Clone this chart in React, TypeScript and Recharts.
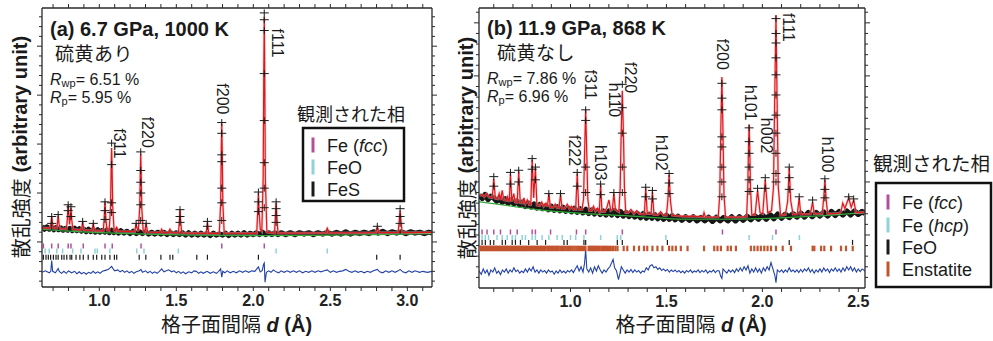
import React from 'react';
import { ComposedChart, Line, Scatter, XAxis, YAxis } from 'recharts';

const LATIN = '"Liberation Sans", Arial, Helvetica, sans-serif';
const CJK = '"Noto Sans CJK JP", "Noto Sans CJK SC", sans-serif';

type P = [number, number];

// ================= Panel (a): 6.7 GPa, 1000 K =================
const aXTicks = [0.7, 0.8, 0.9, 1.0, 1.1, 1.2, 1.3, 1.4, 1.5, 1.6, 1.7, 1.8, 1.9, 2.0, 2.1, 2.2, 2.3, 2.4, 2.5, 2.6, 2.7, 2.8, 2.9, 3.0, 3.1];
const aXLabels = [1.0, 1.5, 2.0, 2.5, 3.0];
const aYTicks = [-4, -3, -2, -1, 0, 1, 2, 3, 4, 5, 6, 7, 8, 9, 10, 11, 12, 13, 14, 15, 16, 17, 18, 19, 20, 21, 22, 23];

const aCalc: P[] = [
  [0.628, 1.45], [0.66, 1.42],
  [0.679, 1.41], [0.686, 1.9], [0.691, 2.6], [0.696, 1.9], [0.703, 1.4],
  [0.722, 1.38], [0.728, 1.9], [0.733, 2.7], [0.738, 1.9], [0.745, 1.37],
  [0.787, 1.32], [0.793, 2.4], [0.798, 3.8], [0.803, 2.6], [0.807, 1.8], [0.811, 2.4], [0.816, 3.5], [0.821, 2.3], [0.828, 1.3],
  [0.882, 1.22], [0.888, 1.6], [0.892, 2.1], [0.896, 1.6], [0.902, 1.21],
  [0.952, 1.17], [0.957, 1.5], [0.961, 1.9], [0.965, 1.5], [0.97, 1.16],
  [1.026, 1.13], [1.032, 2.5], [1.037, 4.1], [1.042, 2.5], [1.05, 1.2],
  [1.064, 1.15], [1.073, 3.6], [1.077, 7.6], [1.08, 9.6], [1.083, 7.6], [1.087, 3.6], [1.096, 1.2],
  [1.106, 1.1], [1.11, 1.4], [1.113, 1.5], [1.116, 1.4], [1.12, 1.1],
  [1.23, 1.05], [1.235, 1.5], [1.239, 1.9], [1.243, 1.5], [1.25, 1.2],
  [1.253, 1.1], [1.262, 3.4], [1.266, 7.0], [1.269, 9.0], [1.272, 7.0], [1.276, 3.4], [1.285, 1.2],
  [1.295, 1.0], [1.3, 1.5], [1.304, 1.9], [1.308, 1.5], [1.314, 1.0],
  [1.398, 0.97], [1.402, 1.2], [1.405, 1.3], [1.408, 1.2], [1.413, 0.96],
  [1.452, 0.95], [1.456, 1.2], [1.459, 1.3], [1.462, 1.2], [1.467, 0.95],
  [1.514, 0.93], [1.52, 2.2], [1.524, 3.3], [1.528, 2.2], [1.535, 0.93],
  [1.694, 0.88], [1.698, 1.5], [1.702, 2.0], [1.706, 1.5], [1.711, 0.88],
  [1.779, 0.87], [1.788, 4.0], [1.792, 9.5], [1.795, 12.1], [1.798, 9.5], [1.802, 4.0], [1.811, 0.9],
  [2.022, 0.87], [2.028, 3.0], [2.033, 5.0], [2.038, 3.0], [2.045, 1.3],
  [2.055, 1.1], [2.064, 6.5], [2.068, 17.5], [2.071, 23.0], [2.074, 17.5], [2.078, 6.5], [2.088, 1.0],
  [2.138, 0.9], [2.143, 2.6], [2.148, 4.0], [2.153, 2.6], [2.16, 0.9],
  [2.472, 0.92], [2.477, 1.3], [2.48, 1.4], [2.483, 1.3], [2.489, 0.92],
  [2.795, 0.95], [2.801, 1.4], [2.805, 1.5], [2.809, 1.4], [2.815, 0.95],
  [2.94, 0.96], [2.948, 2.3], [2.953, 3.2], [2.958, 2.3], [2.966, 0.96],
  [3.16, 0.97],
];

const aObsBand: P[] = [
  [0.628, 1.6], [0.645, 1.3], [0.66, 1.55], [0.675, 1.3], [0.69, 1.5], [0.705, 1.25], [0.72, 1.5], [0.735, 1.25], [0.75, 1.45], [0.765, 1.2],
  [0.78, 1.4], [0.795, 1.2], [0.81, 1.4], [0.825, 1.15], [0.84, 1.4], [0.855, 1.15], [0.87, 1.35], [0.885, 1.1], [0.9, 1.3], [0.915, 1.05],
  [0.93, 1.3], [0.945, 1.05], [0.96, 1.25], [0.975, 1.0], [0.99, 1.25], [1.005, 1.0], [1.02, 1.2], [1.035, 1.0], [1.05, 1.25], [1.065, 0.95],
  [1.08, 1.2], [1.095, 0.95], [1.11, 1.2], [1.125, 0.9], [1.14, 1.15], [1.16, 0.9], [1.18, 1.1], [1.2, 0.85], [1.22, 1.1], [1.24, 0.85],
  [1.26, 1.05], [1.28, 0.85], [1.3, 1.05], [1.32, 0.8], [1.34, 1.0], [1.36, 0.8], [1.38, 1.0], [1.4, 0.8], [1.42, 1.0], [1.44, 0.75],
  [1.46, 1.0], [1.48, 0.75], [1.5, 0.95], [1.52, 0.75], [1.54, 0.95], [1.56, 0.7], [1.58, 0.95], [1.6, 0.7], [1.62, 0.9], [1.64, 0.7],
  [1.66, 0.9], [1.68, 0.7], [1.7, 0.9], [1.72, 0.65], [1.74, 0.9], [1.76, 0.7], [1.78, 0.85], [1.8, 0.7], [1.82, 0.9], [1.84, 0.65],
  [1.86, 0.9], [1.88, 0.7], [1.9, 0.9], [1.92, 0.7], [1.94, 0.95], [1.96, 0.7], [1.98, 0.9], [2.0, 0.75], [2.02, 0.95], [2.04, 0.75],
  [2.06, 1.0], [2.08, 0.75], [2.1, 0.95], [2.12, 0.75], [2.14, 0.95], [2.16, 0.75], [2.18, 0.95], [2.21, 0.75], [2.24, 0.95], [2.27, 0.75],
  [2.3, 0.95], [2.33, 0.8], [2.36, 0.95], [2.39, 0.75], [2.42, 0.95], [2.45, 0.8], [2.48, 1.0], [2.51, 0.8], [2.54, 1.0], [2.57, 0.8],
  [2.6, 1.05], [2.63, 0.8], [2.66, 1.0], [2.69, 0.85], [2.72, 1.0], [2.75, 0.85], [2.78, 1.05], [2.81, 0.9], [2.84, 1.1], [2.87, 0.85],
  [2.9, 1.05], [2.93, 0.9], [2.96, 1.05], [2.99, 0.85], [3.02, 1.05], [3.05, 0.9], [3.08, 1.0], [3.11, 0.85], [3.14, 1.0], [3.16, 0.9],
];

const aObsCross: P[] = [
  [2.071, 23.4], [2.071, 22.7], [2.071, 21.6], [2.071, 17.2], [2.071, 12.4], [2.071, 8.1], [2.071, 5.5], [2.071, 3.5],
  [1.795, 12.2], [1.795, 11.1], [1.795, 8.9], [1.795, 8.2], [1.795, 5.5], [1.795, 4.0], [1.795, 2.2],
  [1.269, 9.2], [1.269, 7.3], [1.269, 6.1], [1.269, 5.0], [1.269, 3.8], [1.269, 2.2],
  [1.08, 10.1], [1.08, 7.9], [1.08, 4.0], [1.08, 3.0],
  [0.691, 2.6], [0.691, 1.9], [0.733, 2.8], [0.798, 3.8], [0.798, 3.2], [0.816, 3.6], [0.816, 2.6], [0.892, 2.1], [0.961, 1.9],
  [1.037, 4.1], [1.037, 3.2], [1.037, 2.3], [1.239, 1.9], [1.304, 1.9], [1.524, 3.3], [1.524, 2.6], [1.524, 2.0], [1.702, 2.1], [1.702, 1.6],
  [2.033, 5.1], [2.033, 4.1], [2.033, 3.1], [2.148, 4.1], [2.148, 3.4], [2.148, 2.7], [2.148, 2.0],
  [2.953, 3.4], [2.953, 2.6], [2.953, 1.9], [2.805, 1.6],
];

const aBackground: P[] = [[0.628, 1.3], [0.8, 1.1], [1.0, 0.95], [1.3, 0.8], [1.6, 0.7], [2.0, 0.65], [2.4, 0.67], [2.8, 0.75], [3.16, 0.85]];

const aDiff: P[] = [
  [0.628, -3.1], [0.65, -2.95], [0.675, -3.15], [0.685, -3.0], [0.691, -1.9], [0.697, -3.0], [0.715, -3.15], [0.733, -2.7], [0.74, -3.0], [0.755, -3.2],
  [0.77, -3.0], [0.785, -3.2], [0.8, -2.95], [0.82, -3.15], [0.84, -3.0], [0.855, -3.25], [0.87, -3.05], [0.885, -3.25], [0.9, -3.1], [0.915, -3.3],
  [0.93, -3.1], [0.945, -3.2], [0.96, -3.0], [0.975, -3.2], [0.99, -3.05], [1.005, -3.2], [1.02, -3.0], [1.04, -2.9], [1.06, -2.8], [1.08, -2.5],
  [1.09, -2.75], [1.1, -2.95], [1.12, -2.85], [1.135, -3.05], [1.15, -2.9], [1.165, -3.1], [1.18, -2.95], [1.195, -3.15], [1.21, -3.0], [1.225, -3.2],
  [1.24, -3.05], [1.26, -2.95], [1.27, -2.8], [1.28, -3.1], [1.3, -2.95], [1.315, -3.15], [1.33, -3.0], [1.345, -3.2], [1.36, -3.05], [1.375, -3.2],
  [1.39, -3.0], [1.405, -2.75], [1.42, -3.05], [1.435, -2.95], [1.45, -2.85], [1.47, -3.05], [1.485, -2.95], [1.5, -3.15], [1.515, -3.0], [1.53, -3.2],
  [1.545, -3.05], [1.56, -3.25], [1.58, -3.05], [1.6, -3.15], [1.615, -2.95], [1.63, -3.0], [1.645, -3.2], [1.66, -3.05], [1.675, -3.2], [1.7, -3.0],
  [1.72, -3.2], [1.74, -3.05], [1.76, -3.2], [1.775, -3.0], [1.788, -2.75], [1.795, -3.6], [1.802, -3.0], [1.815, -3.15], [1.83, -2.95], [1.85, -3.15],
  [1.87, -3.0], [1.89, -3.15], [1.91, -2.95], [1.93, -3.1], [1.95, -2.95], [1.97, -3.1], [1.99, -2.95], [2.01, -3.0], [2.02, -2.8], [2.033, -2.55],
  [2.045, -3.05], [2.058, -2.9], [2.066, -2.3], [2.071, -2.15], [2.076, -4.1], [2.085, -3.1], [2.1, -2.95], [2.115, -3.1], [2.13, -2.85], [2.148, -3.05],
  [2.165, -3.15], [2.18, -2.95], [2.2, -3.1], [2.22, -2.95], [2.24, -3.1], [2.26, -2.95], [2.28, -3.1], [2.3, -2.95], [2.32, -3.15], [2.34, -3.0],
  [2.36, -3.1], [2.38, -2.95], [2.4, -3.1], [2.42, -2.95], [2.44, -3.05], [2.46, -2.95], [2.48, -2.85], [2.5, -3.1], [2.52, -2.95], [2.54, -3.1],
  [2.56, -3.0], [2.58, -2.95], [2.6, -2.8], [2.62, -3.0], [2.64, -3.1], [2.66, -2.95], [2.68, -3.1], [2.7, -3.0], [2.72, -3.15], [2.74, -3.0],
  [2.76, -3.1], [2.78, -2.95], [2.805, -2.8], [2.82, -3.05], [2.84, -3.15], [2.86, -2.95], [2.88, -3.1], [2.9, -2.95], [2.92, -3.1], [2.94, -2.95],
  [2.953, -2.8], [2.97, -3.05], [2.99, -3.15], [3.01, -2.95], [3.03, -3.1], [3.05, -2.95], [3.08, -3.1], [3.1, -3.0], [3.13, -3.1], [3.16, -3.0],
];

const aFcc = [0.637, 0.691, 0.733, 0.798, 0.816, 0.896, 1.037, 1.084, 1.271, 1.795, 2.071];
const aFeO = [0.648, 0.675, 0.724, 0.762, 0.827, 0.881, 0.972, 0.987, 1.069, 1.243, 1.29, 1.513, 2.148, 2.48];
const aFeS = [0.637, 0.654, 0.669, 0.684, 0.702, 0.719, 0.733, 0.756, 0.771, 0.789, 0.81, 0.821, 0.849, 0.874, 0.896, 0.928, 0.961, 0.983, 1.016, 1.037, 1.069, 1.098, 1.113, 1.259, 1.302, 1.4, 1.459, 1.477, 1.633, 1.702, 2.033, 2.801, 2.953];

const aPeakNames = ['f311', 'f220', 'f200', 'f111'];
const aPeakLabelPos: P[] = [[1.128, 11.6], [1.31, 12.8], [1.797, 16.2], [2.159, 21.8]];

// ================= Panel (b): 11.9 GPa, 868 K =================
const bXTicks = [0.6, 0.7, 0.8, 0.9, 1.0, 1.1, 1.2, 1.3, 1.4, 1.5, 1.6, 1.7, 1.8, 1.9, 2.0, 2.1, 2.2, 2.3, 2.4, 2.5];
const bXLabels = [1.0, 1.5, 2.0, 2.5];
const bYTicks = [-4, -3, -2, -1, 0, 1, 2, 3, 4, 5, 6, 7, 8, 9, 10, 11, 12, 13, 14, 15, 16, 17, 18, 19, 20, 21];

const bCalc: P[] = [
  [0.523, 3.7], [0.54, 3.8], [0.55, 3.6], [0.565, 3.9], [0.575, 3.55],
  [0.592, 3.5], [0.6, 5.3], [0.608, 3.45],
  [0.62, 3.4], [0.628, 3.9], [0.636, 3.3], [0.644, 4.2], [0.652, 3.3],
  [0.665, 3.25], [0.672, 3.6], [0.678, 3.2],
  [0.681, 3.2], [0.687, 5.8], [0.694, 3.15], [0.704, 3.9], [0.712, 3.1],
  [0.722, 3.05], [0.73, 6.0], [0.738, 3.05],
  [0.75, 3.0], [0.757, 3.5], [0.765, 2.95], [0.775, 3.3], [0.785, 2.85],
  [0.793, 2.85], [0.8, 7.1], [0.808, 3.5], [0.817, 6.3], [0.825, 2.8],
  [0.84, 2.75], [0.85, 3.1], [0.86, 2.7], [0.872, 3.0], [0.88, 2.65], [0.887, 3.9], [0.895, 2.6],
  [0.91, 2.6], [0.92, 2.9], [0.93, 2.55], [0.94, 2.55], [0.948, 3.8], [0.956, 2.5],
  [0.97, 2.5], [0.983, 2.9], [0.995, 2.45], [1.005, 2.7], [1.015, 2.4],
  [1.027, 2.4], [1.035, 5.8], [1.043, 2.4],
  [1.06, 2.4], [1.068, 3.4], [1.073, 7.5], [1.079, 11.8], [1.085, 7.5], [1.09, 3.4], [1.098, 2.3],
  [1.11, 2.3], [1.12, 2.7], [1.13, 2.25], [1.14, 2.5],
  [1.15, 2.2], [1.157, 4.7], [1.164, 2.2],
  [1.178, 2.2], [1.19, 2.6], [1.2, 3.3], [1.21, 2.3], [1.218, 2.4], [1.226, 3.9], [1.234, 2.4],
  [1.252, 2.2], [1.259, 4.5], [1.264, 9.5], [1.27, 13.6], [1.276, 9.5], [1.281, 4.5], [1.288, 2.1],
  [1.3, 2.1], [1.315, 2.4], [1.33, 2.0], [1.345, 2.3], [1.36, 2.0], [1.375, 1.95],
  [1.385, 1.95], [1.392, 4.4], [1.4, 2.0], [1.42, 2.0], [1.427, 4.1], [1.435, 1.9],
  [1.455, 1.9], [1.47, 2.2], [1.485, 1.85], [1.5, 1.85], [1.507, 3.2], [1.514, 5.7], [1.521, 3.2], [1.53, 1.85],
  [1.56, 1.8], [1.6, 1.75], [1.64, 1.78], [1.69, 1.7], [1.696, 2.1], [1.703, 1.7],
  [1.74, 1.68], [1.77, 1.7], [1.778, 3.8], [1.784, 10.5], [1.789, 14.9], [1.794, 10.5], [1.8, 3.8], [1.808, 1.7],
  [1.85, 1.68], [1.9, 1.7], [1.918, 1.75], [1.924, 4.5], [1.928, 8.5], [1.931, 10.4], [1.934, 8.5], [1.938, 4.5], [1.945, 1.9],
  [1.962, 1.9], [1.975, 4.2], [1.988, 2.1], [2.002, 2.0], [2.015, 5.2], [2.028, 2.1],
  [2.048, 2.3], [2.058, 4.5], [2.064, 12.5], [2.071, 20.7], [2.077, 12.5], [2.083, 4.5], [2.095, 1.85],
  [2.12, 1.9], [2.132, 3.2], [2.14, 6.3], [2.148, 3.2], [2.16, 1.95],
  [2.182, 1.95], [2.192, 3.5], [2.2, 1.95],
  [2.25, 1.98], [2.262, 3.1], [2.27, 2.0],
  [2.312, 2.0], [2.32, 3.5], [2.326, 5.2], [2.332, 3.5], [2.34, 2.0],
  [2.4, 2.05], [2.41, 2.2], [2.419, 3.0], [2.43, 2.5], [2.45, 3.5], [2.463, 2.6], [2.476, 3.3], [2.488, 2.1],
  [2.535, 2.15],
];

const bObsBand: P[] = [
  [0.523, 3.75], [0.54, 3.45], [0.555, 3.8], [0.57, 3.35], [0.585, 3.65], [0.6, 3.5], [0.615, 3.2], [0.63, 3.5], [0.645, 3.1], [0.66, 3.4],
  [0.675, 3.0], [0.69, 3.3], [0.705, 2.95], [0.72, 3.2], [0.735, 2.85], [0.75, 3.1], [0.765, 2.7], [0.78, 3.0], [0.795, 2.65], [0.81, 2.9],
  [0.825, 2.55], [0.84, 2.85], [0.855, 2.5], [0.87, 2.75], [0.885, 2.4], [0.9, 2.7], [0.915, 2.35], [0.93, 2.65], [0.945, 2.3], [0.96, 2.6],
  [0.975, 2.25], [0.99, 2.5], [1.005, 2.2], [1.02, 2.5], [1.035, 2.15], [1.05, 2.45], [1.065, 2.1], [1.08, 2.4], [1.095, 2.05], [1.11, 2.35],
  [1.125, 2.0], [1.14, 2.3], [1.155, 1.95], [1.17, 2.25], [1.185, 1.9], [1.2, 2.25], [1.215, 1.9], [1.23, 2.3], [1.245, 1.85], [1.26, 2.2],
  [1.275, 1.8], [1.29, 2.1], [1.305, 1.75], [1.32, 2.05], [1.335, 1.7], [1.35, 2.0], [1.365, 1.65], [1.38, 2.0], [1.395, 1.6], [1.41, 1.95],
  [1.425, 1.6], [1.44, 1.9], [1.455, 1.55], [1.47, 1.85], [1.485, 1.5], [1.5, 1.85], [1.515, 1.5], [1.53, 1.8], [1.545, 1.45], [1.56, 1.75],
  [1.58, 1.4], [1.6, 1.7], [1.62, 1.4], [1.64, 1.7], [1.66, 1.35], [1.68, 1.65], [1.7, 1.35], [1.72, 1.65], [1.74, 1.3], [1.76, 1.65],
  [1.78, 1.35], [1.8, 1.65], [1.82, 1.35], [1.84, 1.7], [1.86, 1.35], [1.88, 1.7], [1.9, 1.4], [1.92, 1.75], [1.94, 1.45], [1.96, 1.8],
  [1.98, 1.5], [2.0, 1.85], [2.02, 1.5], [2.04, 1.9], [2.06, 1.55], [2.08, 1.95], [2.1, 1.6], [2.12, 1.95], [2.14, 1.65], [2.16, 2.0],
  [2.18, 1.7], [2.2, 2.05], [2.22, 1.7], [2.24, 2.1], [2.26, 1.75], [2.28, 2.1], [2.3, 1.8], [2.32, 2.15], [2.34, 1.8], [2.36, 2.2],
  [2.38, 1.85], [2.4, 2.2], [2.42, 1.9], [2.44, 2.25], [2.46, 1.9], [2.48, 2.25], [2.5, 1.95], [2.52, 2.2], [2.535, 2.05],
];

const bObsCross: P[] = [
  [2.071, 20.4], [2.071, 19.0], [2.071, 18.1], [2.071, 16.7], [2.071, 15.1], [2.071, 13.2], [2.071, 11.3], [2.071, 9.6], [2.071, 7.7], [2.071, 5.8], [2.071, 5.0],
  [1.789, 14.3], [1.789, 12.9], [1.789, 11.8], [1.789, 9.25], [1.789, 8.3], [1.789, 6.4], [1.789, 5.0], [1.789, 3.6],
  [1.931, 10.1], [1.931, 8.8], [1.931, 7.7], [1.931, 6.4], [1.931, 5.2], [1.931, 4.1],
  [1.27, 14.2], [1.27, 12.0], [1.27, 9.6], [1.27, 6.4], [1.27, 4.0],
  [1.079, 11.8], [1.079, 10.8], [1.079, 6.4], [1.079, 4.0],
  [0.6, 5.5], [0.6, 4.6], [0.687, 5.9], [0.687, 4.8], [0.73, 6.1], [0.73, 5.0], [0.8, 7.2], [0.8, 6.2], [0.817, 6.4], [0.817, 5.2],
  [0.887, 3.9], [0.948, 3.9], [1.035, 5.9], [1.035, 4.6], [1.157, 4.8], [1.157, 3.8], [1.226, 4.0], [1.392, 4.5], [1.392, 3.6],
  [1.427, 4.2], [1.427, 3.4], [1.514, 5.8], [1.514, 4.9], [1.514, 3.9], [1.975, 4.4], [2.015, 5.4], [2.015, 4.4],
  [2.14, 6.4], [2.14, 5.4], [2.14, 4.3], [2.192, 3.6], [2.262, 3.3], [2.326, 5.3], [2.326, 4.3], [2.326, 3.5], [2.45, 3.6], [2.476, 3.4],
];

const bBackground: P[] = [[0.523, 3.14], [0.7, 2.7], [0.84, 2.36], [1.1, 1.98], [1.37, 1.73], [1.56, 1.5], [1.8, 1.48], [2.0, 1.55], [2.3, 1.8], [2.535, 2.1]];

const bDiff: P[] = [
  [0.523, -3.4], [0.535, -3.7], [0.545, -3.2], [0.555, -3.6], [0.565, -3.3], [0.575, -3.8], [0.585, -3.3], [0.595, -3.5], [0.605, -3.1], [0.615, -3.6],
  [0.625, -3.4], [0.635, -3.75], [0.645, -3.3], [0.655, -3.5], [0.665, -3.2], [0.675, -3.6], [0.685, -3.3], [0.695, -3.5], [0.705, -3.1], [0.715, -3.45],
  [0.725, -3.3], [0.735, -3.6], [0.745, -3.4], [0.755, -3.55], [0.765, -3.2], [0.775, -3.5], [0.785, -3.15], [0.795, -3.4], [0.805, -3.0], [0.815, -3.5],
  [0.825, -3.3], [0.835, -3.6], [0.845, -3.3], [0.855, -3.5], [0.865, -3.35], [0.875, -3.6], [0.885, -3.3], [0.895, -3.5], [0.905, -3.4], [0.915, -3.7],
  [0.925, -3.4], [0.935, -3.6], [0.945, -3.3], [0.955, -3.55], [0.965, -3.4], [0.975, -3.6], [0.985, -3.35], [0.995, -3.5], [1.005, -3.3], [1.015, -3.55],
  [1.025, -3.2], [1.035, -2.9], [1.045, -3.4], [1.055, -3.0], [1.065, -3.5], [1.073, -2.7], [1.079, -1.4], [1.085, -3.2], [1.095, -3.5], [1.105, -3.1],
  [1.115, -3.6], [1.125, -3.0], [1.135, -3.4], [1.145, -2.9], [1.155, -3.3], [1.165, -3.6], [1.175, -3.3], [1.185, -3.5], [1.195, -3.2], [1.205, -3.0],
  [1.215, -2.6], [1.222, -2.3], [1.23, -3.1], [1.24, -3.4], [1.25, -4.2], [1.258, -3.6], [1.265, -3.0], [1.275, -3.3], [1.285, -3.6], [1.295, -3.3],
  [1.305, -3.5], [1.315, -3.25], [1.325, -3.55], [1.335, -3.3], [1.345, -3.5], [1.355, -3.35], [1.365, -3.6], [1.375, -3.4], [1.385, -3.5], [1.395, -3.1],
  [1.405, -3.3], [1.415, -2.9], [1.425, -2.8], [1.435, -3.1], [1.445, -3.0], [1.455, -3.25], [1.465, -3.1], [1.475, -3.35], [1.485, -3.2], [1.495, -3.4],
  [1.505, -3.25], [1.515, -3.5], [1.525, -3.3], [1.535, -3.45], [1.545, -3.3], [1.555, -3.5], [1.565, -3.35], [1.575, -3.55], [1.585, -3.4], [1.595, -3.6],
  [1.605, -3.35], [1.615, -3.5], [1.625, -3.3], [1.635, -3.55], [1.645, -3.4], [1.655, -3.5], [1.665, -3.3], [1.675, -3.55], [1.685, -3.35], [1.695, -3.5],
  [1.705, -3.3], [1.715, -3.6], [1.725, -3.4], [1.735, -3.5], [1.745, -3.3], [1.755, -3.55], [1.765, -3.35], [1.775, -3.4], [1.783, -3.9], [1.789, -4.1],
  [1.795, -3.2], [1.805, -3.4], [1.815, -3.6], [1.825, -3.3], [1.835, -3.5], [1.845, -3.3], [1.855, -3.55], [1.865, -3.2], [1.875, -3.45], [1.885, -3.1],
  [1.895, -3.4], [1.905, -3.0], [1.915, -3.3], [1.925, -2.9], [1.935, -3.6], [1.945, -3.2], [1.955, -3.5], [1.965, -3.1], [1.975, -3.5], [1.985, -3.2],
  [1.995, -3.6], [2.005, -3.1], [2.015, -3.4], [2.025, -3.0], [2.035, -3.3], [2.045, -2.6], [2.055, -3.2], [2.065, -3.8], [2.071, -4.5], [2.078, -3.3],
  [2.09, -3.5], [2.1, -3.3], [2.11, -3.55], [2.12, -3.3], [2.13, -3.5], [2.14, -3.1], [2.15, -3.45], [2.16, -3.3], [2.17, -3.5], [2.18, -3.3],
  [2.19, -3.55], [2.2, -3.25], [2.21, -3.5], [2.22, -3.2], [2.23, -3.4], [2.24, -3.1], [2.25, -3.5], [2.26, -3.25], [2.27, -3.6], [2.28, -3.3],
  [2.29, -3.5], [2.3, -3.2], [2.31, -3.5], [2.32, -3.1], [2.33, -3.4], [2.34, -3.2], [2.35, -3.55], [2.36, -3.2], [2.37, -3.4], [2.38, -3.1],
  [2.39, -3.45], [2.4, -3.2], [2.41, -3.5], [2.42, -3.1], [2.43, -3.4], [2.44, -3.0], [2.45, -3.3], [2.46, -3.0], [2.47, -3.4], [2.48, -3.1],
  [2.49, -3.5], [2.5, -3.2], [2.51, -3.45], [2.52, -3.2], [2.535, -3.4],
];

const bFcc = [0.539, 0.565, 0.6, 0.635, 0.687, 0.722, 0.8, 0.817, 0.896, 1.031, 1.079, 1.27, 1.792, 2.071];
const bHcp = [0.539, 0.556, 0.573, 0.617, 0.644, 0.67, 0.696, 0.713, 0.748, 0.765, 0.8, 0.817, 0.852, 0.887, 0.93, 0.957, 1.0, 1.027, 1.07, 1.157, 1.244, 1.262, 1.497, 1.931, 2.053, 2.193];
const bFeO = [0.539, 0.556, 0.582, 0.6, 0.644, 0.661, 0.696, 0.713, 0.739, 0.782, 0.826, 0.87, 0.966, 0.983, 1.07, 1.079, 1.244, 1.27, 1.505, 2.14, 2.47];
const bEnstatite = [
  0.528, 0.535, 0.541, 0.548, 0.556, 0.562, 0.569, 0.577, 0.584, 0.59, 0.598, 0.605, 0.611, 0.619, 0.626, 0.632, 0.64, 0.647, 0.654, 0.661,
  0.668, 0.675, 0.683, 0.69, 0.697, 0.704, 0.711, 0.719, 0.726, 0.733, 0.741, 0.748, 0.755, 0.762, 0.77, 0.777, 0.785, 0.792, 0.8, 0.808,
  0.815, 0.823, 0.831, 0.839, 0.846, 0.854, 0.862, 0.87, 0.879, 0.887, 0.895, 0.904, 0.912, 0.921, 0.929, 0.938, 0.947, 0.956, 0.965, 0.974,
  0.983, 0.992, 1.001, 1.01, 1.02, 1.03, 1.04, 1.05, 1.06, 1.07, 1.078,
  1.094, 1.102, 1.11, 1.118, 1.126, 1.134, 1.143, 1.152, 1.161, 1.17, 1.18, 1.19, 1.2, 1.21, 1.222, 1.234, 1.245,
  1.277, 1.296, 1.331, 1.357, 1.383, 1.4, 1.427, 1.453, 1.479, 1.514, 1.531, 1.549, 1.575, 1.61, 1.696, 1.749, 1.766, 1.784, 1.819,
  1.836, 1.862, 1.94, 1.958, 1.975, 1.992, 2.01, 2.027, 2.045, 2.071, 2.106, 2.149, 2.262, 2.271, 2.306, 2.323, 2.358, 2.41, 2.436, 2.471,
];

const bPeakNames = ['f222', 'f311', 'h103', 'h110', 'f220', 'h102', 'f200', 'h101', 'h002', 'f111', 'h100'];
const bPeakLabelPos: P[] = [[1.021, 9.43], [1.105, 15.57], [1.157, 8.49], [1.23, 14.34], [1.313, 16.3], [1.475, 9.43], [1.792, 18.5], [1.94, 14.15], [2.024, 11.04], [2.137, 20.94], [2.341, 9.25]];

// ================= helpers =================
const pts = (arr: P[]) => arr.map(([d, v]) => ({ d, v }));
const row = (ds: number[], v: number) => ds.map((d) => ({ d, v }));
const labels = (names: string[], pos: P[]) => names.map((t, i) => ({ d: pos[i][0], v: pos[i][1], t }));

const AXIS = '#2a2a2a';
const XH = 30;
const TH = 6;
const YW = 8;

const mkXTick = (labs: number[], side: 'bottom' | 'top') => (props: any) => {
  const { x, y, payload } = props;
  const val = payload.value as number;
  const major = labs.some((l) => Math.abs(l - val) < 1e-6);
  const dir = side === 'bottom' ? 1 : -1;
  return (
    <g>
      <line x1={x} x2={x} y1={y} y2={y + dir * 4} stroke={AXIS} strokeWidth={1} />
      {side === 'bottom' && major ? (
        <text x={x} y={y + 18.5} textAnchor="middle" fontFamily={LATIN} fontWeight="bold" fontSize={16} fill="#222">
          {val.toFixed(1)}
        </text>
      ) : null}
    </g>
  );
};

const mkYTick = (side: 'left' | 'right') => (props: any) => {
  const { x, y, payload } = props;
  const val = payload.value as number;
  const major = Math.abs(val % 5) < 1e-6;
  const len = major ? 5 : 3;
  const dir = side === 'left' ? -1 : 1;
  return <line x1={x} x2={x + dir * len} y1={y} y2={y} stroke={AXIS} strokeWidth={1} />;
};

const crossShape = (p: any) => (
  <path d={`M${p.cx - 4.5},${p.cy}H${p.cx + 4.5}M${p.cx},${p.cy - 3.5}V${p.cy + 3.5}`} stroke="#1a1a1a" strokeWidth={1} fill="none" />
);
const tickShape = (color: string, h: number, w: number) => (p: any) => (
  <line x1={p.cx} x2={p.cx} y1={p.cy - h / 2} y2={p.cy + h / 2} stroke={color} strokeWidth={w} />
);
const labelShape = (p: any) => (
  <text x={p.cx} y={p.cy} transform={`rotate(90 ${p.cx} ${p.cy})`} dominantBaseline="central" fontFamily={LATIN} fontSize={16} fill="#1a1a1a">
    {p.payload.t}
  </text>
);

const C_RED = '#e3161c';
const C_PINK = '#f6b0b0';
const C_GREEN = '#34a83a';
const C_BLUE = '#2342a8';
const C_MAG = '#b3509c';
const C_CYAN = '#90d2d7';
const C_BLK = '#1a1a1a';
const C_ENS = '#c2542e';

type Row = { data: { d: number; v: number }[]; color: string; w: number; h: number };

type PanelCfg = {
  plot: { left: number; right: number; top: number; bottom: number };
  xDomain: [number, number];
  yDomain: [number, number];
  xTicks: number[];
  xLabels: number[];
  yTicks: number[];
  calc: P[];
  band: P[];
  bandWidth: number;
  cross: P[];
  bg: P[];
  diff: P[];
  rows: Row[];
  peakLabels: { d: number; v: number; t: string }[];
};

function Panel({ c }: { c: PanelCfg }) {
  const ax = { xAxisId: 'b', yAxisId: 'l' };
  const margin = {
    top: c.plot.top - TH,
    left: c.plot.left - YW,
    right: 993 - c.plot.right - YW,
    bottom: 341 - c.plot.bottom - XH,
  };
  return (
    <div style={{ position: 'absolute', left: 0, top: 0 }}>
      <ComposedChart width={993} height={341} margin={margin}>
        <XAxis xAxisId="b" dataKey="d" type="number" domain={c.xDomain} ticks={c.xTicks} interval={0} tickSize={0} tickMargin={0} height={XH} tickLine={false} axisLine={{ stroke: AXIS, strokeWidth: 1.3 }} tick={mkXTick(c.xLabels, 'bottom')} allowDataOverflow />
        <XAxis xAxisId="t" orientation="top" dataKey="d" type="number" domain={c.xDomain} ticks={c.xTicks} interval={0} tickSize={0} tickMargin={0} height={TH} tickLine={false} axisLine={{ stroke: AXIS, strokeWidth: 1.3 }} tick={mkXTick(c.xLabels, 'top')} allowDataOverflow />
        <YAxis yAxisId="l" dataKey="v" type="number" domain={c.yDomain} ticks={c.yTicks} interval={0} tickSize={0} tickMargin={0} width={YW} tickLine={false} axisLine={{ stroke: AXIS, strokeWidth: 1.3 }} tick={mkYTick('left')} allowDataOverflow />
        <YAxis yAxisId="r" orientation="right" dataKey="v" type="number" domain={c.yDomain} ticks={c.yTicks} interval={0} tickSize={0} tickMargin={0} width={YW} tickLine={false} axisLine={{ stroke: AXIS, strokeWidth: 1.3 }} tick={mkYTick('right')} allowDataOverflow />

        <Line {...ax} data={pts(c.band)} dataKey="v" type="linear" stroke="#161616" strokeWidth={c.bandWidth} dot={false} activeDot={false} isAnimationActive={false} strokeLinejoin="round" />
        <Line {...ax} data={pts(c.bg)} dataKey="v" type="monotone" stroke={C_GREEN} strokeWidth={1.2} dot={false} activeDot={false} isAnimationActive={false} />
        <Line {...ax} data={pts(c.calc)} dataKey="v" type="linear" stroke={C_PINK} strokeWidth={2.6} strokeOpacity={0.55} dot={false} activeDot={false} isAnimationActive={false} />
        <Line {...ax} data={pts(c.calc)} dataKey="v" type="linear" stroke={C_RED} strokeWidth={1.2} dot={false} activeDot={false} isAnimationActive={false} />
        <Scatter {...ax} data={pts(c.cross)} shape={crossShape} isAnimationActive={false} />
        {c.rows.map((r, i) => (
          <Scatter key={i} {...ax} data={r.data} shape={tickShape(r.color, r.h, r.w)} isAnimationActive={false} />
        ))}
        <Line {...ax} data={pts(c.diff)} dataKey="v" type="linear" stroke={C_BLUE} strokeWidth={1.1} dot={false} activeDot={false} isAnimationActive={false} />
        <Scatter {...ax} data={c.peakLabels} shape={labelShape} isAnimationActive={false} />
      </ComposedChart>
    </div>
  );
}

const panelA: PanelCfg = {
  plot: { left: 42, right: 432, top: 8, bottom: 287 },
  xDomain: [0.628, 3.16],
  yDomain: [-4.6, 23.9],
  xTicks: aXTicks,
  xLabels: aXLabels,
  yTicks: aYTicks,
  calc: aCalc,
  band: aObsBand,
  bandWidth: 5,
  cross: aObsCross,
  bg: aBackground,
  diff: aDiff,
  rows: [
    { data: row(aFcc, -0.41), color: C_MAG, w: 1.5, h: 5 },
    { data: row(aFeO, -0.92), color: C_CYAN, w: 1.5, h: 5 },
    { data: row(aFeS, -1.56), color: C_BLK, w: 1.2, h: 5 },
  ],
  peakLabels: labels(aPeakNames, aPeakLabelPos),
};

const panelB: PanelCfg = {
  plot: { left: 479, right: 865, top: 8, bottom: 288 },
  xDomain: [0.523, 2.535],
  yDomain: [-5.0, 21.4],
  xTicks: bXTicks,
  xLabels: bXLabels,
  yTicks: bYTicks,
  calc: bCalc,
  band: bObsBand,
  bandWidth: 5.5,
  cross: bObsCross,
  bg: bBackground,
  diff: bDiff,
  rows: [
    { data: row(bFcc, 0.28), color: C_MAG, w: 1.5, h: 5 },
    { data: row(bHcp, -0.24), color: C_CYAN, w: 1.5, h: 5 },
    { data: row(bFeO, -0.7), color: C_BLK, w: 1.2, h: 5 },
    { data: row(bEnstatite, -1.27), color: C_ENS, w: 2.2, h: 5.5 },
  ],
  peakLabels: labels(bPeakNames, bPeakLabelPos),
};

function RLine({ x, y, sub, rest }: { x: number; y: number; sub: string; rest: string }) {
  return (
    <text x={x} y={y} fontFamily={LATIN} fontSize={16} fill="#1a1a1a">
      <tspan fontStyle="italic">R</tspan>
      <tspan fontSize={11} dy={1.5}>{sub}</tspan>
      <tspan dy={-1.5}>{rest}</tspan>
    </text>
  );
}

function LegendItem({ x, y, color, children }: { x: number; y: number; color: string; children: React.ReactNode }) {
  return (
    <g>
      <line x1={x} x2={x} y1={y - 7.5} y2={y + 7.5} stroke={color} strokeWidth={3} />
      <text x={x + 14} y={y + 6.5} fontFamily={LATIN} fontSize={18} fill="#1a1a1a">{children}</text>
    </g>
  );
}

function Overlay() {
  return (
    <svg width={993} height={341} style={{ position: 'absolute', left: 0, top: 0, pointerEvents: 'none' }}>
      <text x={50} y={35.5} fontFamily={LATIN} fontWeight="bold" fontSize={20} fill="#1a1a1a">(a) 6.7 GPa, 1000 K</text>
      <text x={55} y={61} fontFamily={CJK} fontSize={19} fill="#1a1a1a" letterSpacing={0.5}>硫黄あり</text>
      <RLine x={50} y={85} sub="wp" rest="= 6.51 %" />
      <RLine x={50} y={103} sub="p" rest="= 5.95 %" />

      <text x={297} y={121} fontFamily={CJK} fontSize={18} fill="#1a1a1a">観測された相</text>
      <rect x={303} y={128} width={101} height={73} fill="#fff" stroke="#111" strokeWidth={2.5} />
      <LegendItem x={313} y={145} color={C_MAG}>Fe (<tspan fontStyle="italic">fcc</tspan>)</LegendItem>
      <LegendItem x={313} y={167} color={C_CYAN}>FeO</LegendItem>
      <LegendItem x={313} y={189} color={C_BLK}>FeS</LegendItem>

      <text transform="translate(20,147) rotate(-90)" textAnchor="middle" dominantBaseline="central" fontSize={20} fill="#1a1a1a">
        <tspan fontFamily={CJK}>散乱強度</tspan>
        <tspan fontFamily={LATIN} fontWeight="bold"> (arbitrary unit)</tspan>
      </text>
      <text x={236.5} y={332} textAnchor="middle" fontSize={20} fill="#1a1a1a">
        <tspan fontFamily={CJK}>格子面間隔</tspan>
        <tspan fontFamily={LATIN} fontWeight="bold" fontStyle="italic"> d</tspan>
        <tspan fontFamily={LATIN} fontWeight="bold"> (Å)</tspan>
      </text>

      <text x={487} y={35} fontFamily={LATIN} fontWeight="bold" fontSize={20} fill="#1a1a1a">(b) 11.9 GPa, 868 K</text>
      <text x={497} y={60} fontFamily={CJK} fontSize={19} fill="#1a1a1a" letterSpacing={0.5}>硫黄なし</text>
      <RLine x={487} y={84} sub="wp" rest="= 7.86 %" />
      <RLine x={487} y={102} sub="p" rest="= 6.96 %" />

      <text x={873} y={171} fontFamily={CJK} fontSize={19.5} fill="#1a1a1a">観測された相</text>
      <rect x={876} y={183} width={115} height={104} fill="#fff" stroke="#111" strokeWidth={2.5} />
      <LegendItem x={888} y={202} color={C_MAG}>Fe (<tspan fontStyle="italic">fcc</tspan>)</LegendItem>
      <LegendItem x={888} y={225} color={C_CYAN}>Fe (<tspan fontStyle="italic">hcp</tspan>)</LegendItem>
      <LegendItem x={888} y={247} color={C_BLK}>FeO</LegendItem>
      <LegendItem x={888} y={269} color={C_ENS}>Enstatite</LegendItem>

      <text transform="translate(466,148) rotate(-90)" textAnchor="middle" dominantBaseline="central" fontSize={20} fill="#1a1a1a">
        <tspan fontFamily={CJK}>散乱強度</tspan>
        <tspan fontFamily={LATIN} fontWeight="bold"> (arbitrary unit)</tspan>
      </text>
      <text x={691} y={332} textAnchor="middle" fontSize={20} fill="#1a1a1a">
        <tspan fontFamily={CJK}>格子面間隔</tspan>
        <tspan fontFamily={LATIN} fontWeight="bold" fontStyle="italic"> d</tspan>
        <tspan fontFamily={LATIN} fontWeight="bold"> (Å)</tspan>
      </text>
    </svg>
  );
}

export default function App() {
  return (
    <div style={{ position: 'absolute', left: 0, top: 0, width: 993, height: 341, background: '#fff', overflow: 'hidden' }}>
      <Panel c={panelA} />
      <Panel c={panelB} />
      <Overlay />
    </div>
  );
}
